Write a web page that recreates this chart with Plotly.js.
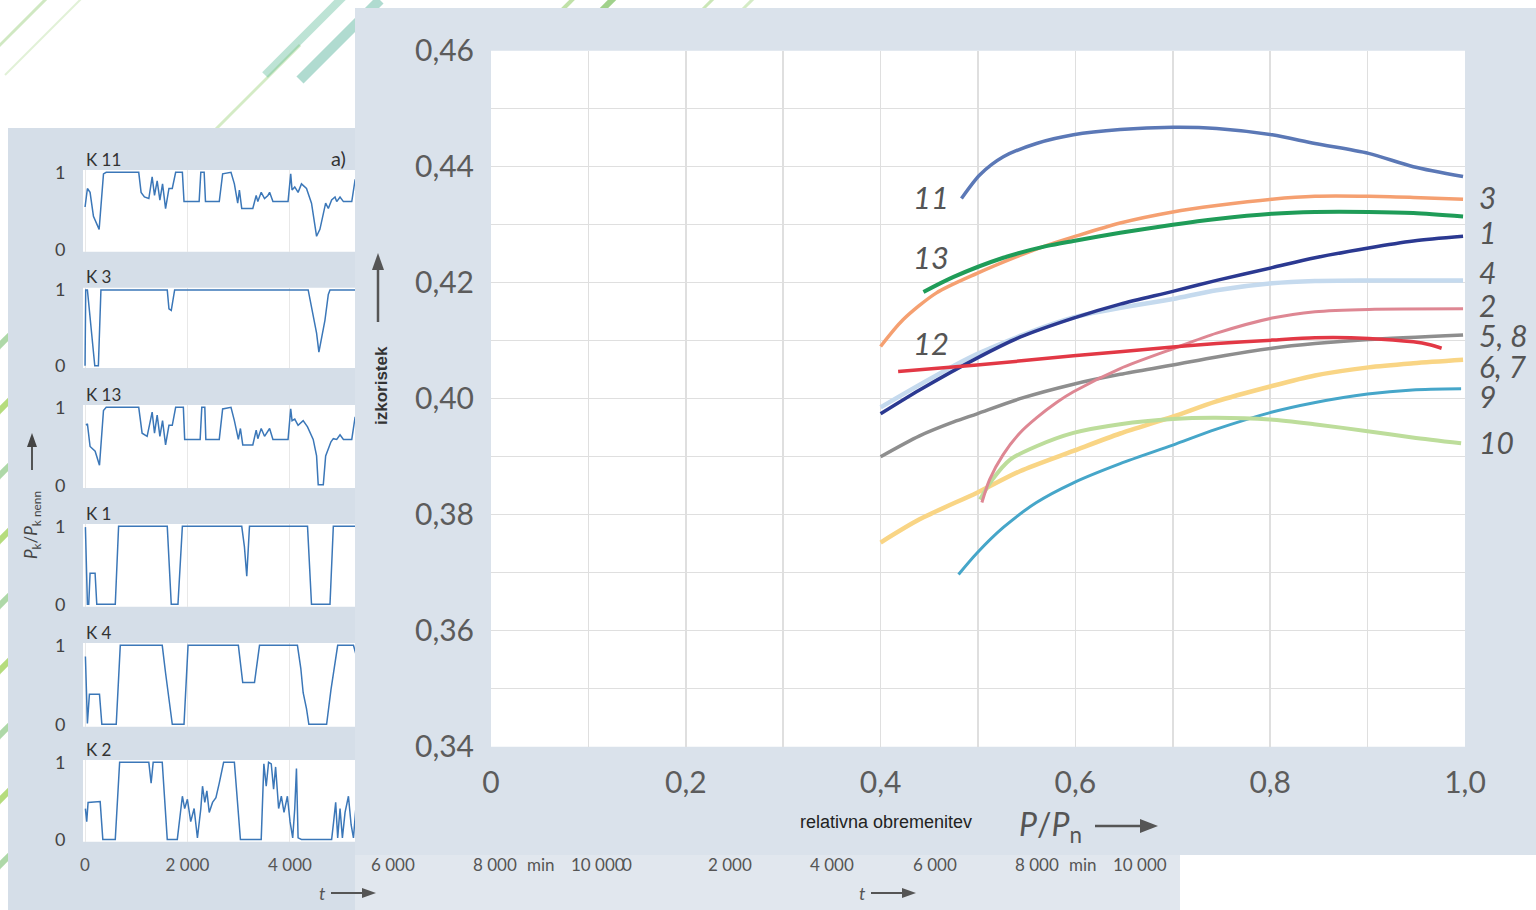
<!DOCTYPE html>
<html><head><meta charset="utf-8">
<script src="https://cdn.plot.ly/plotly-3.0.1.min.js"></script>
<style>html,body{margin:0;padding:0;background:#fff;overflow:hidden}#chart{width:1536px;height:910px}</style>
</head><body><div id="chart"></div>
<script>
// ---------- main chart data (relative load P/Pn -> efficiency) ----------
const c11_x=[0.483,0.502,0.526,0.560,0.598,0.646,0.700,0.745,0.802,0.846,0.901,0.947,0.998];
const c11_y=[0.4345,0.4386,0.4417,0.4440,0.4455,0.4464,0.4468,0.4466,0.4455,0.4440,0.4423,0.4400,0.4383];
const c3_x=[0.400,0.423,0.457,0.499,0.543,0.570,0.598,0.646,0.700,0.745,0.802,0.846,0.901,0.947,0.998];
const c3_y=[0.4090,0.4136,0.4182,0.4216,0.4247,0.4264,0.4279,0.4303,0.4322,0.4333,0.4344,0.4349,0.4349,0.4347,0.4344];
const c13_x=[0.444,0.475,0.526,0.570,0.598,0.646,0.700,0.745,0.802,0.846,0.901,0.947,0.998];
const c13_y=[0.4184,0.4210,0.4243,0.4263,0.4272,0.4286,0.4300,0.4310,0.4319,0.4322,0.4322,0.4320,0.4314];
const c4_x=[0.400,0.499,0.598,0.700,0.745,0.802,0.846,0.901,0.998];
const c4_y=[0.3985,0.4077,0.4140,0.4172,0.4187,0.4199,0.4203,0.4204,0.4204];
const c1_x=[0.400,0.440,0.499,0.543,0.598,0.646,0.700,0.745,0.802,0.846,0.901,0.947,0.998];
const c1_y=[0.3974,0.4015,0.4070,0.4106,0.4139,0.4163,0.4185,0.4204,0.4226,0.4243,0.4260,0.4272,0.4280];
const c2_x=[0.504,0.512,0.526,0.543,0.560,0.581,0.598,0.646,0.700,0.745,0.802,0.846,0.901,0.998];
const c2_y=[0.3821,0.3861,0.3904,0.3941,0.3967,0.3994,0.4012,0.4052,0.4086,0.4113,0.4139,0.4150,0.4154,0.4155];
const c58_x=[0.400,0.440,0.475,0.499,0.543,0.598,0.646,0.700,0.745,0.802,0.846,0.901,0.998];
const c58_y=[0.3900,0.3936,0.3960,0.3974,0.4000,0.4025,0.4042,0.4058,0.4072,0.4087,0.4095,0.4102,0.4110];
const c12_x=[0.418,0.499,0.598,0.700,0.745,0.802,0.846,0.901,0.947,0.964,0.976];
const c12_y=[0.4047,0.4058,0.4074,0.4089,0.4095,0.4101,0.4105,0.4104,0.4098,0.4093,0.4087];
const c10_x=[0.502,0.515,0.533,0.560,0.598,0.646,0.700,0.744,0.800,0.845,0.900,0.946,0.996];
const c10_y=[0.3826,0.3861,0.3895,0.3918,0.3941,0.3956,0.3965,0.3967,0.3964,0.3956,0.3944,0.3933,0.3923];
const c67_x=[0.400,0.440,0.499,0.543,0.598,0.646,0.700,0.744,0.800,0.846,0.901,0.947,0.998];
const c67_y=[0.3752,0.3792,0.3838,0.3875,0.3910,0.3940,0.3969,0.3995,0.4021,0.4040,0.4054,0.4061,0.4067];
const c9_x=[0.480,0.499,0.526,0.560,0.598,0.646,0.700,0.744,0.800,0.845,0.900,0.946,0.996];
const c9_y=[0.3697,0.3734,0.3778,0.3821,0.3855,0.3888,0.3920,0.3947,0.3976,0.3993,0.4008,0.4015,0.4017];

const mainXTickVals=[0,0.2,0.4,0.6,0.8,1.0];
const mainXTickText=['0','0,2','0,4','0,6','0,8','1,0'];
const mainYTickVals=[0.34,0.36,0.38,0.40,0.42,0.44,0.46];
const mainYTickText=['0,34','0,36','0,38','0,40','0,42','0,44','0,46'];

// ---------- small time series (t in min, Pk/Pk nenn) ----------
const tK11=[0,46,98,164,275,360,413,1048,1094,1159,1245,1310,1356,1408,1461,1513,1572,1638,1703,1769,1900,1932,2227,2260,2325,2351,2620,2686,2849,2915,2980,3013,3059,3275,3341,3373,3439,3504,3570,3603,3668,3963,4015,4041,4094,4159,4225,4323,4421,4520,4585,4651,4697,4749,4814,4880,4913,4978,5044,5207,5273];
const pK11=[0.55,0.79,0.74,0.43,0.26,0.98,1,1,0.74,0.68,0.66,0.94,0.70,0.89,0.64,0.85,0.53,0.79,0.79,1,1,0.62,0.62,1,1,0.62,0.62,0.98,1,0.85,0.60,0.77,0.53,0.53,0.70,0.62,0.74,0.66,0.70,0.74,0.62,0.62,0.98,0.77,0.81,0.74,0.85,0.79,0.60,0.17,0.26,0.47,0.60,0.53,0.64,0.68,0.62,0.68,0.62,0.62,0.91];
const tK3=[0,13,46,190,260,310,1605,1638,1683,1749,4356,4454,4520,4565,4631,4683,4749,4782,5300];
const pK3=[0,1,1,0,0,1,1,0.75,0.73,1,1,0.65,0.43,0.18,0.43,0.6,0.94,1,1];
const tK13=[20,46,98,197,282,360,413,1048,1114,1212,1310,1356,1408,1461,1513,1572,1638,1703,1769,1919,1945,2247,2279,2338,2358,2620,2686,2849,2915,2993,3033,3079,3275,3341,3373,3439,3504,3570,3603,3668,3963,4015,4041,4094,4159,4258,4343,4454,4520,4552,4651,4697,4749,4801,4847,4913,4978,5044,5207,5273];
const pK13=[0.77,0.79,0.50,0.44,0.26,0.96,1,1,0.67,0.63,0.94,0.67,0.90,0.63,0.83,0.52,0.77,0.77,1,1,0.59,0.59,1,1,0.59,0.59,0.98,1,0.83,0.59,0.73,0.52,0.52,0.71,0.60,0.73,0.63,0.69,0.73,0.59,0.59,0.98,0.83,0.85,0.77,0.83,0.75,0.59,0.38,0.01,0.01,0.38,0.48,0.56,0.60,0.59,0.65,0.59,0.59,0.88];
const tK1=[7,46,72,98,196,229,590,655,1605,1683,1814,1900,3059,3111,3157,3210,4343,4421,4782,4847,5300];
const pK1=[0.99,0,0,0.40,0.40,0,0,1,1,0,0,1,1,0.74,0.36,1,1,0,0,1,1];
const tK4=[7,46,85,282,328,609,688,1507,1572,1703,1932,2011,2993,3078,3308,3406,4146,4212,4258,4323,4369,4716,4801,4880,4932,5240,5300];
const pK4=[0.86,0.01,0.38,0.38,0,0,1,1,0.65,0,0,1,1,0.53,0.53,1,1,0.71,0.40,0.20,0,0,0.44,0.81,1,1,0.86];
const tK2=[7,33,59,295,347,590,675,1245,1290,1330,1507,1605,1801,1900,1945,1998,2063,2129,2194,2260,2293,2338,2378,2424,2489,2555,2620,2705,2915,3033,3439,3491,3537,3583,3635,3681,3720,3779,3832,3884,3950,4002,4054,4094,4127,4159,4225,4814,4853,4893,4932,4978,5024,5076,5142,5194,5240,5286];
const pK2=[0.40,0.23,0.48,0.49,0,0,1,1,0.73,1,1,0,0,0.56,0.40,0.52,0.23,0.40,0.02,0.40,0.69,0.48,0.63,0.35,0.48,0.54,0.73,1,1,0,0,0.98,0.69,1,0.98,0.65,0.94,0.40,0.56,0.35,0.56,0.23,0.02,0.40,0.92,0.02,0,0,0.23,0.48,0.02,0.40,0.02,0.35,0.56,0.19,0.02,0.40];

const smallNames=['K 11','K 3','K 13','K 1','K 4','K 2'];
const smallT=[tK11,tK3,tK13,tK1,tK4,tK2];
const smallP=[pK11,pK3,pK13,pK1,pK4,pK2];
const timeTickVals=[0,2000,4000];
const timeTickText=['0','2 000','4 000'];
// tick labels of the time axes that continue behind the main panel
const hiddenTimeT1=[6000,8000,8900,10000];
const hiddenTimeL1=['6 000','8 000','min','10 000'];
const hiddenTimeT2=[0,2000,4000,6000,8000,8900,10000];
const hiddenTimeL2=['0','2 000','4 000','6 000','8 000','min','10 000'];

// ---------- geometry helpers ----------
const W=1536,H=910;
const px=x=>x/W, py=y=>1-y/H;
const PXPERMIN=0.05125;

const traces=[];
const spl={shape:'spline',smoothing:0.8};
function addMain(x,y,color,width){traces.push({x:x,y:y,type:'scatter',mode:'lines',xaxis:'x',yaxis:'y',line:Object.assign({color:color,width:width},spl),hoverinfo:'skip'});}
addMain(c4_x,c4_y,'#c5daee',4.5);
addMain(c1_x,c1_y,'#2b3991',3.5);
addMain(c9_x,c9_y,'#46a6c9',3);
addMain(c67_x,c67_y,'#f9d585',4.5);
addMain(c10_x,c10_y,'#bddd9b',4);
addMain(c58_x,c58_y,'#8e8e8e',3.5);
addMain(c2_x,c2_y,'#de8793',3);
addMain(c12_x,c12_y,'#e23845',3.5);
addMain(c3_x,c3_y,'#f5a071',3.5);
addMain(c13_x,c13_y,'#1f9c58',4);
addMain(c11_x,c11_y,'#5b78b6',3.5);

const tops=[170,287.7,405,524,643,760], bots=[251.7,368,488,606.7,726.7,841.7];
const gridC='#dfdfdf';
const layout={width:W,height:H,margin:{l:0,r:0,t:0,b:0},paper_bgcolor:'#ffffff',plot_bgcolor:'#ffffff',showlegend:false,
  xaxis:{domain:[px(491),px(1465)],range:[0,1],anchor:'y',tickmode:'array',tickvals:mainXTickVals,ticktext:mainXTickText,showgrid:true,gridcolor:gridC,gridwidth:1.5,minor:{tickmode:'linear',tick0:0,dtick:0.1,showgrid:true,gridcolor:gridC,gridwidth:1.5,ticks:''},zeroline:false,showline:false,ticks:'outside',ticklen:9,tickcolor:'rgba(0,0,0,0)',tickfont:{family:'Lato',size:30,color:'#5c5c5c'},fixedrange:true},
  yaxis:{domain:[py(746.7),py(50.7)],range:[0.34,0.46],anchor:'x',tickmode:'array',tickvals:mainYTickVals,ticktext:mainYTickText,showgrid:true,gridcolor:gridC,gridwidth:1.5,minor:{tickmode:'linear',tick0:0.34,dtick:0.01,showgrid:true,gridcolor:gridC,gridwidth:1.5,ticks:''},zeroline:false,showline:false,ticks:'outside',ticklen:10,tickcolor:'rgba(0,0,0,0)',tickfont:{family:'Lato',size:30,color:'#5c5c5c'},fixedrange:true},
  shapes:[],annotations:[]};

for(let i=0;i<6;i++){
  const n=i+2;
  traces.push({x:smallT[i],y:smallP[i],type:'scatter',mode:'lines',xaxis:'x'+n,yaxis:'y'+n,line:{color:'#3b77b8',width:1.5},hoverinfo:'skip'});
  const last=(i===5);
  const xa={domain:[px(83),px(355)],range:[-40,5270],anchor:'y'+n,tickmode:'array',tickvals:timeTickVals,showgrid:true,gridcolor:'#e8e8e8',gridwidth:1,zeroline:false,showline:false,ticks:'outside',ticklen:8,tickcolor:'rgba(0,0,0,0)',tickfont:{family:'Lato',size:17,color:'#555'},fixedrange:true};
  if(last){xa.ticktext=timeTickText;xa.showticklabels=true;}else{xa.showticklabels=false;}
  layout['xaxis'+n]=xa;
  layout['yaxis'+n]={domain:[py(bots[i]),py(tops[i])],range:[-0.03,1.03],anchor:'x'+n,tickmode:'array',tickvals:[0,1],ticktext:['0','1'],showgrid:false,zeroline:false,showline:false,ticks:'outside',ticklen:13,tickcolor:'rgba(0,0,0,0)',tickfont:{family:'Lato',size:18,color:'#444'},fixedrange:true};
  layout.annotations.push({xref:'paper',yref:'paper',x:px(84),y:py(tops[i]-11),xanchor:'left',yanchor:'middle',text:smallNames[i],showarrow:false,font:{family:'Lato',size:17,color:'#333'}});
}

const S=layout.shapes, A=layout.annotations;
function rect(x0,y0,x1,y1,fill){S.push({type:'rect',xref:'paper',yref:'paper',x0:px(x0),x1:px(x1),y0:py(y1),y1:py(y0),fillcolor:fill,line:{width:0},layer:'below'});}
function line(x0,y0,x1,y1,color,w,layer){S.push({type:'line',xref:'paper',yref:'paper',x0:px(x0),y0:py(y0),x1:px(x1),y1:py(y1),line:{color:color,width:w},layer:layer||'below'});}
function tri(a,b,c,color){S.push({type:'path',xref:'paper',yref:'paper',path:`M ${px(a[0])} ${py(a[1])} L ${px(b[0])} ${py(b[1])} L ${px(c[0])} ${py(c[1])} Z`,fillcolor:color,line:{width:0},layer:'above'});}
function txt(x,y,t,size,opts){A.push(Object.assign({xref:'paper',yref:'paper',x:px(x),y:py(y),text:t,showarrow:false,xanchor:'center',yanchor:'middle',font:{family:'Lato',size:size,color:'#555'}},opts||{}));}

// decorative green stripes
line(-10,55,55,-10,'rgba(150,205,120,0.45)',3);
line(5,75,85,-5,'rgba(170,215,140,0.35)',2);
line(215,130,300,45,'rgba(170,215,140,0.5)',3);
line(265,75,345,-5,'rgba(90,185,150,0.4)',8);
line(300,80,380,0,'rgba(80,175,150,0.45)',10);
line(560,12,575,-3,'rgba(150,205,110,0.6)',4);
line(600,12,615,-3,'rgba(120,190,90,0.7)',6);
line(700,12,715,-3,'rgba(150,205,110,0.5)',3);
line(740,12,755,-3,'rgba(170,215,140,0.5)',3);
for(let k=0;k<9;k++){const y=330+k*65;line(-30,y+45,20,y-5,k%2?'rgba(150,205,70,0.7)':'rgba(120,190,110,0.6)',6);} 

// panels and white plot areas
rect(8,128,358,910,'#d5dee8');
rect(355,850,1180,910,'#e1e7ee');
rect(355,8,1536,855,'#dae2eb');
rect(491,50.7,1465,746.7,'#ffffff');
for(let i=0;i<6;i++) rect(83,tops[i],355,bots[i],'#ffffff');

// main curve labels
const rightLabels=['3','1','4','2','5, 8','6, 7','9','10'];
const rightLabelY=[197,232,272,305,335,366,396,442];
rightLabels.forEach((t,i)=>txt(1477,rightLabelY[i],'<i>'+t+'</i>',30,{xanchor:'left'}));
const leftLabels=['11','13','12'];
const leftLabelY=[197,257,343];
leftLabels.forEach((t,i)=>txt(951,leftLabelY[i],'<i>'+t+'</i>',31,{xanchor:'right'}));

// axis titles main
txt(886,822,'relativna obremenitev',18,{font:{family:'Liberation Sans',size:18,color:'#222'}});
txt(1050,826,'<i>P</i>/<i>P</i><sub>n</sub>',32,{font:{family:'Lato',size:32,color:'#555'}});
line(1095,826,1142,826,'#555',2.5,'above');
tri([1158,826],[1140,819],[1140,833],'#555');
txt(381,386,'<b>izkoristek</b>',17,{textangle:-90,font:{family:'Liberation Sans',size:17,color:'#333'}});
line(378,322,378,266,'#555',2.5,'above');
tri([378,253],[372,270],[384,270],'#555');

// small panel titles
txt(338,158,'a)',20,{font:{family:'Lato',size:20,color:'#333'}});
txt(32,525,'<i>P</i><sub>k</sub>/<i>P</i><sub>k nenn</sub>',17,{textangle:-90,font:{family:'Lato',size:17,color:'#444'}});
line(32,470,32,446,'#444',1.8,'above');
tri([32,433],[27,447],[37,447],'#444');
txt(322,893,'<i>t</i>',18);
line(331,893,364,893,'#555',1.8,'above');
tri([376,893],[362,888],[362,898],'#555');
txt(862,893,'<i>t</i>',18);
line(871,893,904,893,'#555',1.8,'above');
tri([916,893],[902,888],[902,898],'#555');

// continued time tick labels
hiddenTimeT1.forEach((t,i)=>txt(85+t*PXPERMIN,864,hiddenTimeL1[i],17,{font:{family:'Lato',size:17,color:'#555'}}));
hiddenTimeT2.forEach((t,i)=>txt(627+t*PXPERMIN,864,hiddenTimeL2[i],17,{font:{family:'Lato',size:17,color:'#555'}}));

Plotly.newPlot('chart',traces,layout,{displayModeBar:false,staticPlot:true});
</script></body></html>
